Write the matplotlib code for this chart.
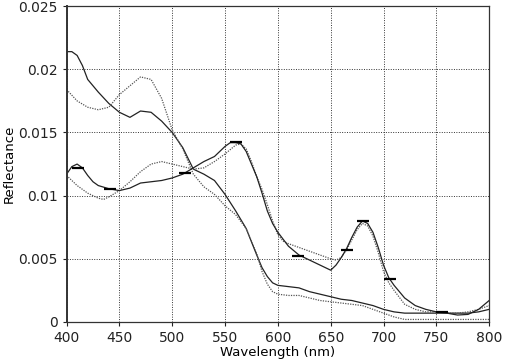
import numpy as np
import matplotlib
matplotlib.use("Agg")
import matplotlib.pyplot as plt

# solid curve with peaks at 560 / 680 nm
wl_a = [400, 405, 410, 415, 420, 425, 430, 440, 450, 460, 470, 480, 490, 500, 510, 520,
        530, 540, 550, 555, 560, 565, 570, 575, 580, 585, 590, 595, 600, 610, 620, 630,
        640, 645, 650, 655, 660, 665, 670, 675, 680, 685, 690, 695, 700, 705, 710, 720,
        730, 740, 750, 760, 770, 780, 790, 800]
refl_a = [0.0117, 0.0123, 0.0125, 0.0122, 0.0116, 0.0111, 0.0108, 0.01055, 0.0104, 0.0106,
          0.0110, 0.0111, 0.0112, 0.0114, 0.0117, 0.0122, 0.0127, 0.0131, 0.0139, 0.0142,
          0.0142, 0.0141, 0.0135, 0.0125, 0.0115, 0.0102, 0.0088, 0.0078, 0.0071, 0.0060,
          0.0053, 0.0049, 0.0045, 0.0043, 0.0041, 0.0045, 0.0051, 0.0058, 0.0067, 0.0075,
          0.0080, 0.0078, 0.0071, 0.0059, 0.0045, 0.0035, 0.0029, 0.0019, 0.0013, 0.0010,
          0.0008, 0.0007, 0.00055, 0.0006, 0.0010, 0.0017]

# dotted twin of A
wl_b = [400, 410, 420, 430, 435, 440, 450, 460, 470, 480, 490, 500, 510, 520, 530, 540,
        550, 560, 565, 570, 575, 580, 585, 590, 595, 600, 605, 610, 620, 630, 640, 650,
        655, 660, 665, 670, 675, 680, 685, 690, 695, 700, 705, 710, 720, 730, 740, 750,
        760, 770, 780, 790, 800]
refl_b = [0.0116, 0.0108, 0.0102, 0.0098, 0.0097, 0.0099, 0.0104, 0.0111, 0.0119, 0.0125,
          0.0127, 0.0125, 0.0123, 0.0121, 0.0122, 0.0127, 0.0133, 0.0140, 0.0141, 0.0137,
          0.0127, 0.0115, 0.0105, 0.0093, 0.0080, 0.0069, 0.0064, 0.0062, 0.0059, 0.0056,
          0.0053, 0.0050, 0.0049, 0.0051, 0.0057, 0.0065, 0.0073, 0.0078, 0.0076, 0.0068,
          0.0055, 0.0040, 0.0031, 0.0025, 0.0014, 0.0010, 0.0008, 0.0008, 0.0007, 0.0007,
          0.0008, 0.0010, 0.0013]

# solid curve starting high at 400 nm
wl_c = [400, 405, 410, 415, 420, 430, 440, 450, 460, 470, 480, 490, 500, 510, 520, 530,
        540, 550, 560, 570, 580, 585, 590, 595, 600, 610, 620, 630, 640, 650, 660, 670,
        680, 690, 700, 710, 720, 730, 740, 750, 760, 770, 780, 790, 800]
refl_c = [0.0214, 0.0214, 0.0211, 0.0203, 0.0192, 0.0182, 0.0173, 0.0166, 0.0162, 0.0167,
          0.0166, 0.0159, 0.0150, 0.0138, 0.0121, 0.0117, 0.0112, 0.0101, 0.0088, 0.0074,
          0.0053, 0.0043, 0.0036, 0.0031, 0.0029, 0.0028, 0.0027, 0.0024, 0.0022, 0.0020,
          0.0018, 0.0017, 0.0015, 0.0013, 0.0010, 0.0008, 0.0007, 0.0007, 0.0007, 0.0007,
          0.0007, 0.0007, 0.0007, 0.0008, 0.0010]

# dotted curve with bump at 470 nm
wl_d = [400, 410, 420, 430, 440, 450, 460, 470, 480, 490, 500, 510, 520, 530, 540, 550,
        560, 570, 580, 585, 590, 595, 600, 610, 620, 630, 640, 650, 660, 670, 680, 690,
        700, 710, 720, 730, 740, 750, 760, 770, 780, 790, 800]
refl_d = [0.0184, 0.0175, 0.0170, 0.0168, 0.0170, 0.0180, 0.0187, 0.0194, 0.0192, 0.0177,
          0.0152, 0.0137, 0.0117, 0.0107, 0.0101, 0.0092, 0.0085, 0.0074, 0.0054, 0.0040,
          0.0030, 0.0024, 0.0022, 0.0021, 0.0021, 0.0019, 0.0017, 0.0016, 0.0015, 0.0014,
          0.0013, 0.0010, 0.0007, 0.0004, 0.0002, 0.0002, 0.0002, 0.0002, 0.0002, 0.0002,
          0.0002, 0.0002, 0.0002]

# horizontal bar markers on curve A
mark_wl = [411, 441, 512, 560, 619, 665, 681, 706, 755]
mark_val = [0.0122, 0.01055, 0.0118, 0.01425, 0.00525, 0.0057, 0.0080, 0.00338, 0.0008]

xticks = [400, 450, 500, 550, 600, 650, 700, 750, 800]
yticks = [0, 0.005, 0.01, 0.015, 0.02, 0.025]
ytick_labels = ['0', '0.005', '0.01', '0.015', '0.02', '0.025']

plt.rcParams['font.family'] = ['DejaVu Sans']
fig = plt.figure(figsize=(5.16, 3.63), dpi=100)
ax = fig.add_axes([0.129, 0.113, 0.819, 0.870])

dot = (0, (1, 1))
ax.plot(wl_c, refl_c, color='#222222', lw=0.9)
ax.plot(wl_d, refl_d, color='#555555', lw=0.9, ls=dot)
ax.plot(wl_b, refl_b, color='#555555', lw=0.9, ls=dot)
ax.plot(wl_a, refl_a, color='#222222', lw=0.9)
ax.plot(mark_wl, mark_val, ls='none', marker='_', ms=9, mew=1.6, color='black')

ax.set_xlim(400, 800)
ax.set_ylim(0, 0.025)
ax.set_xticks(xticks)
ax.set_yticks(yticks)
ax.set_yticklabels(ytick_labels)
ax.grid(True, color='#333333', lw=0.7, ls=(0, (1, 1.5)))
ax.tick_params(direction='out', length=3, width=0.8, labelsize=10, colors='#222222')
for s in ax.spines.values():
    s.set_color('#333333')
    s.set_linewidth(0.9)
ax.spines['left'].set_linewidth(1.4)

ax.set_xlabel('Wavelength (nm)', fontsize=9.5, labelpad=1)
ax.set_ylabel('Reflectance', fontsize=9.5, labelpad=2)

fig.savefig('out.png', dpi=100)
